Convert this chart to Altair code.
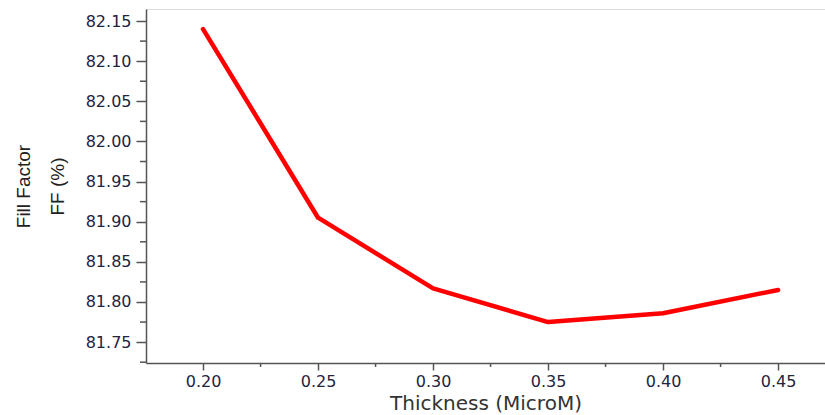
import altair as alt
import pandas as pd

thickness = [0.20, 0.25, 0.30, 0.35, 0.40, 0.45]
fill_factor = [82.140, 81.905, 81.817, 81.775, 81.786, 81.815]

y_major = [81.75, 81.80, 81.85, 81.90, 81.95, 82.00, 82.05, 82.10, 82.15]
y_minor = [81.725, 81.775, 81.825, 81.875, 81.925, 81.975, 82.025, 82.075, 82.125]
x_major = [0.20, 0.25, 0.30, 0.35, 0.40, 0.45]
x_minor = [0.225, 0.275, 0.325, 0.375, 0.425]

df = pd.DataFrame({"t": thickness, "ff": fill_factor})
ym = pd.DataFrame({"v": y_minor})
xm = pd.DataFrame({"v": x_minor})

W, H = 679, 354
xscale = alt.Scale(domain=[0.1752, 0.4704], nice=False, zero=False)
yscale = alt.Scale(domain=[81.724, 82.165], nice=False, zero=False)
lab_col = "#23233f"
font = "DejaVu Sans"

line = alt.Chart(df).mark_line(color="#ff0000", strokeWidth=4.5, strokeCap="round", strokeJoin="round").encode(
    x=alt.X("t:Q", scale=xscale, axis=alt.Axis(
        values=x_major, format=".2f", title="Thickness (MicroM)", grid=False,
        tickSize=7, tickColor="#555555", domainColor="#555555", domainWidth=1.5, tickWidth=1.5,
        labelFontSize=16, labelColor=lab_col, labelFont=font, labelPadding=3,
        titleFontSize=20, titleFont=font, titleFontWeight="normal", titleColor="#333333", titlePadding=4)),
    y=alt.Y("ff:Q", scale=yscale, axis=alt.Axis(
        values=y_major, format=".2f", title=["Fill Factor", "FF (%)"], grid=False,
        tickSize=10, tickColor="#555555", domainColor="#555555", domainWidth=1.5, tickWidth=1.5,
        labelFontSize=16, labelColor=lab_col, labelFont=font, labelPadding=5,
        titleFontSize=19, titleFont="Liberation Sans", titleFontWeight="normal", titleColor="#222222",
        titlePadding=18, titleLineHeight=34)),
)

yminor = alt.Chart(ym).mark_rule(color="#555555", strokeWidth=1.5).encode(
    y=alt.Y("v:Q", scale=yscale), x=alt.value(-6), x2=alt.value(0))
xminor = alt.Chart(xm).mark_rule(color="#555555", strokeWidth=1.5).encode(
    x=alt.X("v:Q", scale=xscale), y=alt.value(H), y2=alt.value(H + 4))

chart = alt.layer(line, yminor, xminor).properties(
    width=W, height=H,
    padding={"left": 146, "top": 9, "right": 0, "bottom": 52},
    autosize=alt.AutoSizeParams(type="none"),
).configure_view(stroke=None).configure(background="white")

chart.save("out.html", embed_options={"renderer": "svg", "actions": False})
